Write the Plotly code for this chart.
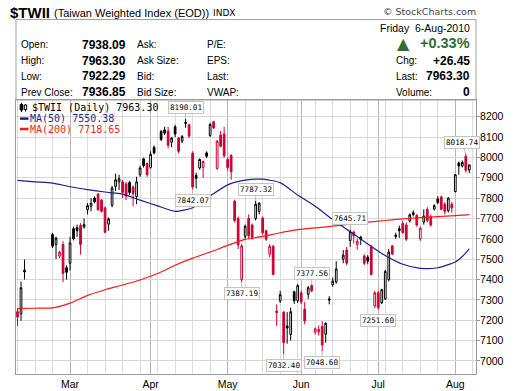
import plotly.graph_objects as go
import pandas as pd

# ---------------- data ----------------
dates = [
    "2010-02-08", "2010-02-09", "2010-02-10", "2010-02-22", "2010-02-23", "2010-02-24", "2010-02-25", "2010-02-26",
    "2010-03-01", "2010-03-02", "2010-03-03", "2010-03-04", "2010-03-05", "2010-03-08", "2010-03-09", "2010-03-10",
    "2010-03-11", "2010-03-12", "2010-03-15", "2010-03-16", "2010-03-17", "2010-03-18", "2010-03-19", "2010-03-22",
    "2010-03-23", "2010-03-24", "2010-03-25", "2010-03-26", "2010-03-29", "2010-03-30", "2010-03-31",
    "2010-04-01", "2010-04-02", "2010-04-06", "2010-04-07", "2010-04-08", "2010-04-09", "2010-04-12", "2010-04-13",
    "2010-04-14", "2010-04-15", "2010-04-16", "2010-04-19", "2010-04-20", "2010-04-21", "2010-04-22", "2010-04-23",
    "2010-04-26", "2010-04-27", "2010-04-28", "2010-04-29", "2010-04-30",
    "2010-05-03", "2010-05-04", "2010-05-05", "2010-05-06", "2010-05-07", "2010-05-10", "2010-05-11", "2010-05-12",
    "2010-05-13", "2010-05-14", "2010-05-17", "2010-05-18", "2010-05-19", "2010-05-20", "2010-05-21", "2010-05-24",
    "2010-05-25", "2010-05-26", "2010-05-27", "2010-05-28", "2010-05-31",
    "2010-06-01", "2010-06-02", "2010-06-03", "2010-06-04", "2010-06-07", "2010-06-08", "2010-06-09", "2010-06-10",
    "2010-06-11", "2010-06-14", "2010-06-15", "2010-06-17", "2010-06-18", "2010-06-21", "2010-06-22", "2010-06-23",
    "2010-06-24", "2010-06-25", "2010-06-28", "2010-06-29", "2010-06-30",
    "2010-07-01", "2010-07-02", "2010-07-05", "2010-07-06", "2010-07-07", "2010-07-08", "2010-07-09", "2010-07-12",
    "2010-07-13", "2010-07-14", "2010-07-15", "2010-07-16", "2010-07-19", "2010-07-20", "2010-07-21", "2010-07-22",
    "2010-07-23", "2010-07-26", "2010-07-27", "2010-07-28", "2010-07-29", "2010-07-30",
    "2010-08-02", "2010-08-03", "2010-08-04", "2010-08-05", "2010-08-06",
]
opens = [
    7242, 7232, 7446, 7621, 7572, 7515, 7572, 7458,
    7480, 7650, 7655, 7665, 7658, 7743, 7760, 7800, 7820, 7790, 7752, 7672, 7765, 7858, 7880, 7880,
    7870, 7877, 7855, 7808, 7915, 7993, 7970,
    7950, 8050, 8127, 8135, 8130, 8075, 8150, 8095, 8080, 8172, 8160, 8020, 7912, 7948, 7950, 8022,
    8108, 8175, 7945, 8110, 8115,
    7990, 8010, 7785, 7700, 7400, 7612, 7700, 7668, 7700, 7735, 7702, 7640, 7525, 7563, 7245, 7295,
    7240, 7172, 7130, 7340, 7296,
    7335, 7255, 7327, 7370, 7142, 7143, 7170, 7131, 7305, 7375, 7388, 7500, 7545, 7592, 7633, 7572,
    7608, 7515, 7510, 7560, 7270,
    7335, 7286, 7305, 7400, 7565, 7618, 7650, 7675, 7668, 7688, 7728, 7715, 7600, 7682, 7745, 7708,
    7746, 7796, 7805, 7770, 7738, 7770,
    7832, 7972, 7958, 8005, 7938.09,
]
highs = [
    7260, 7390, 7498, 7629, 7610, 7540, 7588, 7470,
    7610, 7660, 7670, 7677, 7700, 7776, 7800, 7808, 7825, 7795, 7760, 7705, 7860, 7920, 7915, 7890,
    7878, 7885, 7862, 7905, 7960, 7998, 7975,
    8030, 8058, 8135, 8150, 8150, 8100, 8160, 8100, 8110, 8190.01, 8165, 8030, 7925, 7995, 7985, 8030,
    8170, 8180, 8085, 8130, 8150,
    8000, 8015, 7792, 7710, 7575, 7670, 7720, 7675, 7787.32, 7780, 7710, 7645, 7575, 7570, 7278, 7345,
    7245, 7240, 7262, 7345, 7378,
    7345, 7290, 7368, 7377.56, 7165, 7175, 7195, 7190, 7318, 7410, 7490, 7545, 7560, 7645.71, 7640, 7600,
    7615, 7525, 7520, 7570, 7345,
    7345, 7355, 7448, 7550, 7570, 7630, 7665, 7690, 7680, 7725, 7740, 7722, 7660, 7745, 7755, 7720,
    7770, 7810, 7812, 7780, 7805, 7782,
    7918, 7980, 7985, 8018.74, 7963.30,
]
lows = [
    7172, 7198, 7400, 7555, 7501, 7505, 7387, 7400,
    7445, 7592, 7610, 7523, 7650, 7720, 7735, 7775, 7740, 7730, 7628, 7640, 7755, 7835, 7840, 7800,
    7790, 7815, 7760, 7770, 7905, 7950, 7905,
    7945, 8015, 8080, 8110, 8045, 8050, 8100, 8020, 8070, 8145, 8095, 7842.07, 7848, 7940, 7900, 7998,
    8100, 8140, 7940, 8050, 8000,
    7935, 7890, 7680, 7550, 7387.19, 7600, 7600, 7595, 7690, 7720, 7620, 7590, 7510, 7420, 7172, 7285,
    7032.40, 7085, 7100, 7280, 7285,
    7280, 7180, 7305, 7338, 7130, 7125, 7048.60, 7090, 7278, 7365, 7380, 7480, 7470, 7560, 7578, 7547,
    7570, 7470, 7475, 7420, 7260,
    7251.60, 7280, 7300, 7390, 7520, 7600, 7605, 7625, 7590, 7680, 7710, 7660, 7590, 7670, 7680, 7660,
    7740, 7770, 7740, 7720, 7730, 7728,
    7828, 7915, 7950, 7925, 7922.29,
]
closes = [
    7216, 7360, 7438, 7564, 7604, 7534, 7430, 7436,
    7580, 7600, 7640, 7572, 7670, 7763, 7775, 7782, 7742, 7735, 7632, 7698, 7850, 7890, 7895, 7828,
    7810, 7828, 7822, 7880, 7948, 7960, 7915,
    8015, 8022, 8088, 8120, 8060, 8095, 8115, 8030, 8102, 8168, 8105, 7855, 7897, 7990, 7980, 8006,
    8162, 8145, 8080, 8055, 8008,
    7950, 7930, 7690, 7570, 7565, 7662, 7615, 7606, 7770, 7775, 7630, 7598, 7563, 7425, 7238, 7326,
    7090, 7162, 7242, 7296, 7370,
    7290, 7197, 7360, 7345, 7158, 7155, 7078, 7185, 7300, 7392, 7452, 7520, 7480, 7635, 7615, 7588,
    7597, 7480, 7490, 7425, 7335,
    7262, 7350, 7440, 7535, 7525, 7612, 7640, 7630, 7598, 7718, 7720, 7668, 7652, 7712, 7690, 7668,
    7763, 7778, 7745, 7735, 7800, 7752,
    7915, 7958, 7975, 7936.85, 7963.30,
]

ma_dates = [
    "2010-02-08", "2010-02-15", "2010-02-22", "2010-03-01", "2010-03-08", "2010-03-15", "2010-03-22",
    "2010-03-29", "2010-04-05", "2010-04-12", "2010-04-19", "2010-04-26", "2010-05-03", "2010-05-10",
    "2010-05-17", "2010-05-24", "2010-05-31", "2010-06-07", "2010-06-14", "2010-06-21", "2010-06-28",
    "2010-07-05", "2010-07-12", "2010-07-19", "2010-07-26", "2010-08-02", "2010-08-04", "2010-08-06",
]
ma50 = [
    7887, 7880, 7874, 7856, 7842, 7830, 7820, 7790, 7762, 7735, 7753, 7810, 7865, 7888,
    7893, 7876, 7815, 7760, 7695, 7635, 7575, 7518, 7475, 7455, 7458, 7486, 7513, 7550.38,
]
ma200 = [
    7257, 7259, 7261, 7284, 7322, 7350, 7373, 7398, 7430, 7470, 7505, 7535, 7568, 7597,
    7612, 7630, 7645, 7654, 7662, 7672, 7682, 7690, 7698, 7704, 7709, 7714, 7716, 7718.65,
]

month_ticks = ["2010-03-01", "2010-04-01", "2010-05-03", "2010-06-01", "2010-07-01", "2010-08-02"]
month_labels = ["Mar", "Apr", "May", "Jun", "Jul", "Aug"]
y_ticks = [7000, 7100, 7200, 7300, 7400, 7500, 7600, 7700, 7800, 7900, 8000, 8100, 8200]

# labelled extremes: (date, which price)
extremes = [
    ("2010-04-15", "high"), ("2010-04-19", "low"), ("2010-05-07", "low"), ("2010-05-13", "high"),
    ("2010-05-25", "low"), ("2010-06-04", "high"), ("2010-06-09", "low"), ("2010-06-21", "high"),
    ("2010-07-01", "low"), ("2010-08-05", "high"),
]

# ---------------- styling ----------------
W, H = 520, 391
PL, PR, PT, PB = 16, 476, 100, 374   # plot-area pixel box
BLACK = "#000000"
CRIMSON = "#cc0033"
MA50_COL = "#1f1f8f"
MA200_COL = "#ff1a1a"
GREEN = "#2f6e2f"
SANS = "Liberation Sans"
MONO = "DejaVu Sans Mono"


def px(x):
    return (x - PL) / (PR - PL)


def py(y):
    return (PB - y) / (PB - PT)


prev_close = [opens[0]] + closes[:-1]
up_day = [c >= p for c, p in zip(closes, prev_close)]

fig = go.Figure()
for flag, col in ((True, BLACK), (False, CRIMSON)):
    ks = [k for k, u in enumerate(up_day) if u == flag]
    fig.add_trace(go.Candlestick(
        x=[dates[k] for k in ks],
        open=[opens[k] for k in ks], high=[highs[k] for k in ks],
        low=[lows[k] for k in ks], close=[closes[k] for k in ks],
        increasing=dict(line=dict(color=col, width=1), fillcolor="white"),
        decreasing=dict(line=dict(color=col, width=1), fillcolor=col),
        whiskerwidth=0, showlegend=False, hoverinfo="skip",
    ))

fig.add_trace(go.Scatter(x=ma_dates, y=ma200, mode="lines", hoverinfo="skip", showlegend=False,
                         line=dict(color=MA200_COL, width=1.2, shape="spline", smoothing=0.6)))
fig.add_trace(go.Scatter(x=ma_dates, y=ma50, mode="lines", hoverinfo="skip", showlegend=False,
                         line=dict(color=MA50_COL, width=1.2, shape="spline", smoothing=0.6)))

# extreme-value call-outs
for d, which in extremes:
    k = dates.index(d)
    v = highs[k] if which == "high" else lows[k]
    fig.add_annotation(
        x=d, y=v, xref="x", yref="y", text=f"{v:.2f}", showarrow=True,
        ax=-4 if d == dates[-2] else 0, ay=-11 if which == "high" else 11,
        arrowhead=0, arrowwidth=1, arrowcolor="#b8b8b8",
        bgcolor="white", bordercolor="#c4c4c4", borderwidth=1, borderpad=1,
        font=dict(family=MONO, size=7.6, color="black"),
    )


def txt(x, y, s, anchor="left", size=10, bold=False, color="black", family=SANS):
    fig.add_annotation(
        xref="paper", yref="paper", x=px(x), y=py(y), xanchor=anchor, yanchor="middle",
        text=f"<b>{s}</b>" if bold else s, showarrow=False, borderpad=0,
        font=dict(family=family, size=size, color=color),
    )


# title line
txt(9, 12.5, "$TWII", size=15, bold=True)
txt(53, 13.5, "(Taiwan Weighted Index (EOD))", size=11)
txt(212, 13.5, "INDX", size=9, family="DejaVu Sans")
txt(477, 12, "\u00a9 StockCharts.com", anchor="right", size=9.5, family="DejaVu Sans", color="#444444")

# quote box
rows_y = [44.7, 60.5, 76.3, 92.0]
left_labels = ["Open:", "High:", "Low:", "Prev Close:"]
left_vals = [opens[-1], highs[-1], lows[-1], closes[-2]]
mid_labels = ["Ask:", "Ask Size:", "Bid:", "Bid Size:"]
right_labels = ["P/E:", "EPS:", "Last:", "VWAP:"]
for yy, a, v, b, c in zip(rows_y, left_labels, left_vals, mid_labels, right_labels):
    txt(20, yy, a, size=10)
    txt(127, yy, f"{v:.2f}", anchor="right", size=12, bold=True)
    txt(135.5, yy, b, size=10)
    txt(206, yy, c, size=10)

last_day = pd.Timestamp(dates[-1])
chg = closes[-1] - closes[-2]
pct = chg / closes[-2] * 100
txt(471, 28.3, f"{last_day.strftime('%A')}\u00a0 {last_day.day}-{last_day.strftime('%b-%Y')}",
    anchor="right", size=10.5)
txt(403.5, 43, "\u25b2", anchor="center", size=16, color=GREEN, family="DejaVu Sans")
txt(471, 43, f"{pct:+.2f}%", anchor="right", size=14.5, bold=True, color=GREEN)
txt(395, 60.8, "Chg:", size=10)
txt(471, 60.8, f"{chg:+.2f}", anchor="right", size=12, bold=True)
txt(395, 76.3, "Last:", size=10)
txt(471, 76.3, f"{closes[-1]:.2f}", anchor="right", size=12, bold=True)
txt(395, 92, "Volume:", size=10)
txt(471, 92, "0", anchor="right", size=12, bold=True)

# in-plot legend
txt(31, 107.8, f"$TWII (Daily) {closes[-1]:.2f}", size=10, family=MONO)
txt(28.5, 118.6, f"MA(50) {ma50[-1]:.2f}", size=10, family=MONO, color=MA50_COL)
txt(28.5, 129.0, f"MA(200) {ma200[-1]:.2f}", size=10, family=MONO, color=MA200_COL)

shapes = [
    dict(type="rect", xref="paper", yref="paper", x0=px(16), x1=px(476), y0=py(100), y1=py(19.5),
         line=dict(color="#a0a0a0", width=1)),
    dict(type="line", xref="paper", yref="paper", x0=px(20), x1=px(28.5), y0=py(118.6), y1=py(118.6),
         line=dict(color=MA50_COL, width=2.5)),
    dict(type="line", xref="paper", yref="paper", x0=px(20), x1=px(28.5), y0=py(129.0), y1=py(129.0),
         line=dict(color=MA200_COL, width=2.5)),
    dict(type="line", xref="paper", yref="paper", x0=px(21.5), x1=px(21.5), y0=py(103), y1=py(112),
         line=dict(color="black", width=1)),
    dict(type="rect", xref="paper", yref="paper", x0=px(20.2), x1=px(22.8), y0=py(104.5), y1=py(110),
         line=dict(color="black", width=1), fillcolor="black"),
    dict(type="line", xref="paper", yref="paper", x0=px(25.5), x1=px(25.5), y0=py(104), y1=py(111.5),
         line=dict(color="black", width=1)),
    dict(type="rect", xref="paper", yref="paper", x0=px(24.3), x1=px(26.7), y0=py(105), y1=py(109.5),
         line=dict(color="black", width=1), fillcolor="white"),
]

fig.update_layout(
    width=W, height=H, autosize=False,
    margin=dict(l=PL, r=W - PR, t=PT, b=H - PB, pad=0, autoexpand=False),
    paper_bgcolor="white", plot_bgcolor="white",
    showlegend=False, shapes=shapes,
    xaxis=dict(
        type="date", range=["2010-02-05 13:40", "2010-08-09 21:50"],
        rangebreaks=[dict(bounds=["sat", "mon"])],
        rangeslider=dict(visible=False), automargin=False,
        tickmode="array", tickvals=month_ticks, ticktext=month_labels,
        ticks="", showgrid=True, gridcolor="#b4b4b4", gridwidth=1,
        minor=dict(dtick=7 * 24 * 3600 * 1000, tick0="2010-02-01", showgrid=True,
                   gridcolor="#dcdcdc", gridwidth=1, ticks=""),
        showline=True, linecolor="#9a9a9a", linewidth=1, mirror=True,
        tickfont=dict(family=SANS, size=10.5, color="black"),
        zeroline=False,
    ),
    yaxis=dict(
        side="right", range=[6936, 8282], tickmode="array", tickvals=y_ticks,
        ticks="outside", ticklen=3, tickcolor="#9a9a9a", automargin=False,
        ticklabelstandoff=-2,
        showgrid=True, gridcolor="#d6d6d6", gridwidth=1,
        showline=True, linecolor="#9a9a9a", linewidth=1, mirror=True,
        tickfont=dict(family=SANS, size=10.5, color="black"),
        zeroline=False,
    ),
)

fig.write_html(
    "out.html",
    config={"displayModeBar": False},
    post_script="document.body.style.margin='0px';document.body.style.overflow='hidden';",
)
